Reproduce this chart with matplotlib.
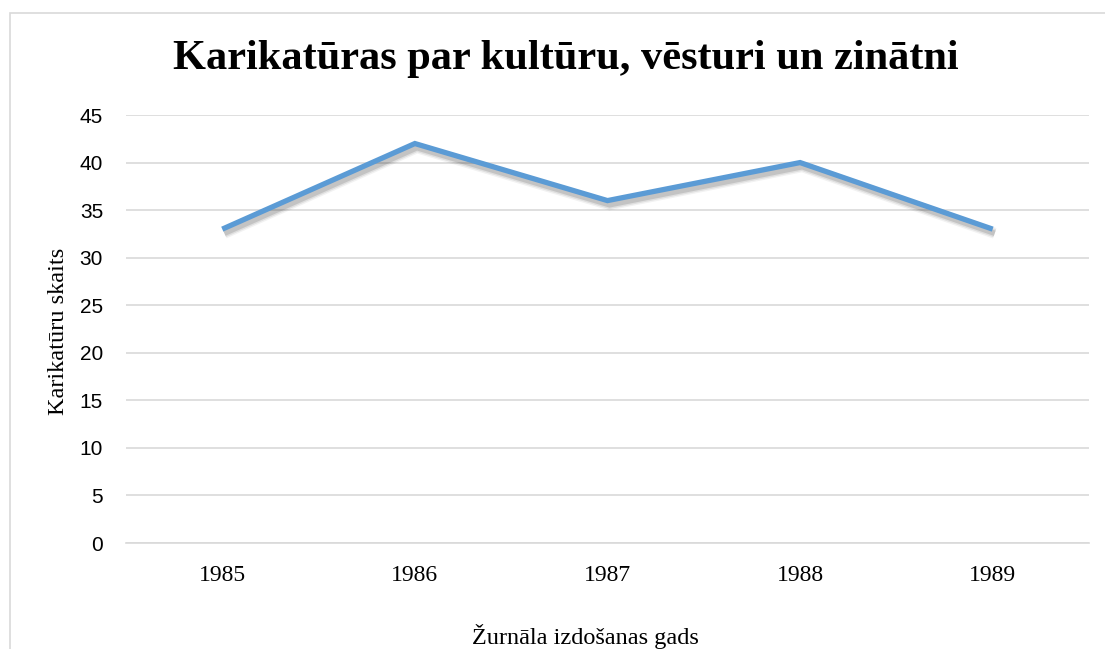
import matplotlib.pyplot as plt
import matplotlib.patheffects as pe
from matplotlib.patches import Rectangle

# data
years = ['1985', '1986', '1987', '1988', '1989']
counts = [33, 42, 36, 40, 33]
y_ticks = [0, 5, 10, 15, 20, 25, 30, 35, 40, 45]

serif = 'Liberation Serif'
sans = 'Liberation Sans'

fig = plt.figure(figsize=(11.05, 6.49), dpi=100)
ax = fig.add_axes([0.114, 0.1633, 0.8715, 0.6595])

# chart border (runs off the right/bottom edge like the source)
fig.patches.append(Rectangle((10 / 1105, -0.1), 1.2, 1 - 13 / 649 + 0.1,
                             transform=fig.transFigure, fill=False,
                             edgecolor='#D9D9D9', linewidth=1.2))

# soft shadow: a few stacked translucent strokes
shadow = [pe.SimpleLineShadow(offset=(1.5, -3), shadow_color='#000000',
                              alpha=a, linewidth=w)
          for w, a in [(8, 0.05), (6, 0.08), (4, 0.12)]]

x = list(range(len(years)))
ax.plot(x, counts, color='#5B9BD5', linewidth=3.8, solid_joinstyle='miter',
        solid_capstyle='butt', zorder=3,
        path_effects=shadow + [pe.Normal()])

ax.set_xlim(-0.5, len(years) - 0.5)
ax.set_ylim(0, 45)
ax.set_yticks(y_ticks)
ax.set_yticklabels([str(v) for v in y_ticks], family=sans, fontsize=15)
ax.set_xticks(x)
ax.set_xticklabels(years, family=serif, fontsize=17)
ax.tick_params(length=0)
ax.tick_params(axis='y', pad=16.5)
ax.tick_params(axis='x', pad=16)

ax.grid(axis='y', color='#D9D9D9', linewidth=1.2)
ax.set_axisbelow(True)
for s in ['top', 'right', 'left']:
    ax.spines[s].set_visible(False)
ax.spines['bottom'].set_color('#D9D9D9')
ax.spines['bottom'].set_linewidth(1.2)

fig.text(0.512, 1 - 69 / 649, 'Karikatūras par kultūru, vēsturi un zinātni',
         family=serif, fontweight='bold', fontsize=30.5, ha='center', va='baseline')
fig.text(0.0525, 0.49, 'Karikatūru skaits', family=serif, fontsize=17.5,
         rotation=90, ha='center', va='center')
fig.text(0.53, 0.0185, 'Žurnāla izdošanas gads', family=serif, fontsize=17.5,
         ha='center', va='center')

plt.savefig('out.png', dpi=100, facecolor='white')
